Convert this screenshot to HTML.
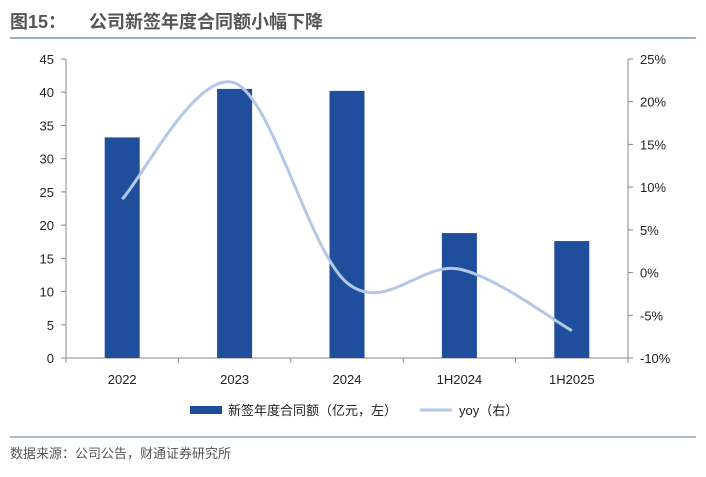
<!DOCTYPE html>
<html><head><meta charset="utf-8"><style>
body{margin:0;background:#fff;width:706px;height:472px;overflow:hidden;font-family:"Liberation Sans","Noto Sans CJK SC",sans-serif}
</style></head><body>
<svg width="706" height="472" xmlns="http://www.w3.org/2000/svg" font-family="Liberation Sans, Noto Sans CJK SC, sans-serif">
<text x="10" y="28" font-size="18" font-weight="bold" fill="#555">图15：</text>
<text x="89" y="28" font-size="18" font-weight="bold" fill="#555">公司新签年度合同额小幅下降</text>
<line x1="10" y1="38" x2="696" y2="38" stroke="#7f93ad" stroke-width="1.5"/>
<g id="plot"></g>
<g>
<rect x="190" y="406" width="32" height="8" fill="#1f4e9c"/>
<text x="228" y="415" font-size="13" fill="#222">新签年度合同额（亿元，左）</text>
<line x1="420" y1="410" x2="452" y2="410" stroke="#b4c7e7" stroke-width="3"/>
<text x="459" y="415" font-size="13" fill="#222">yoy（右）</text>
</g>
<line x1="10" y1="437" x2="696" y2="437" stroke="#7f93ad" stroke-width="1.2"/>
<text x="10" y="458" font-size="13" fill="#555">数据来源：公司公告，财通证券研究所</text>
</svg>
<script>
const categories=["2022","2023","2024","1H2024","1H2025"];
const contractValues=[33.2,40.5,40.2,18.8,17.6];
const yoyValues=[8.6,22.2,-1.2,0.4,-6.8];
const leftTicks=[0,5,10,15,20,25,30,35,40,45];
const rightTicks=[-10,-5,0,5,10,15,20,25];
const NS="http://www.w3.org/2000/svg";
const g=document.getElementById('plot');
const X0=66,X1=628,Y0=358,Y1=59;
const yL=v=>Y0-(v-0)/45*(Y0-Y1);
const yR=v=>Y0-(v+10)/35*(Y0-Y1);
const bw=(X1-X0)/categories.length;
const xc=i=>X0+bw*(i+0.5);
function el(t,a){const e=document.createElementNS(NS,t);for(const k in a)e.setAttribute(k,a[k]);g.appendChild(e);return e;}
let ax=el('line',{x1:X0,y1:Y1,x2:X0,y2:Y0,stroke:'#888'});

ax=el('line',{x1:X1,y1:Y1,x2:X1,y2:Y0,stroke:'#888'});

ax=el('line',{x1:X0,y1:Y0,x2:X1,y2:Y0,stroke:'#888'});

leftTicks.forEach(v=>{const y=yL(v);
el('line',{x1:X0-5,y1:y,x2:X0,y2:y,stroke:'#888'});
const t=el('text',{x:X0-12,y:y+5,'font-size':13,'text-anchor':'end',fill:'#222'});t.textContent=v;
});
rightTicks.forEach(v=>{const y=yR(v);
el('line',{x1:X1,y1:y,x2:X1+5,y2:y,stroke:'#888'});
const t=el('text',{x:X1+12,y:y+5,'font-size':13,fill:'#222'});t.textContent=v+'%';
});
for(let i=0;i<=categories.length;i++){el('line',{x1:X0+bw*i,y1:Y0,x2:X0+bw*i,y2:Y0+5,stroke:'#888'});}
categories.forEach((c,i)=>{
const r=el('rect',{x:xc(i)-17.5,y:yL(contractValues[i]),width:35,height:Y0-yL(contractValues[i]),fill:'#1f4e9c'});

const t=el('text',{x:xc(i),y:384,'font-size':13,'text-anchor':'middle',fill:'#222'});t.textContent=c;
});
const P=yoyValues.map((v,i)=>[xc(i),yR(v)]);
let d='M'+P[0][0]+','+P[0][1];
for(let i=0;i<P.length-1;i++){const p0=P[i-1]||P[i],p1=P[i],p2=P[i+1],p3=P[i+2]||p2;const k=1/6;
d+=` C${p1[0]+(p2[0]-p0[0])*k},${p1[1]+(p2[1]-p0[1])*k} ${p2[0]-(p3[0]-p1[0])*k},${p2[1]-(p3[1]-p1[1])*k} ${p2[0]},${p2[1]}`;}
const ln=el('path',{d:d,fill:'none',stroke:'#b4c7e7','stroke-width':3});

</script>
</body></html>
